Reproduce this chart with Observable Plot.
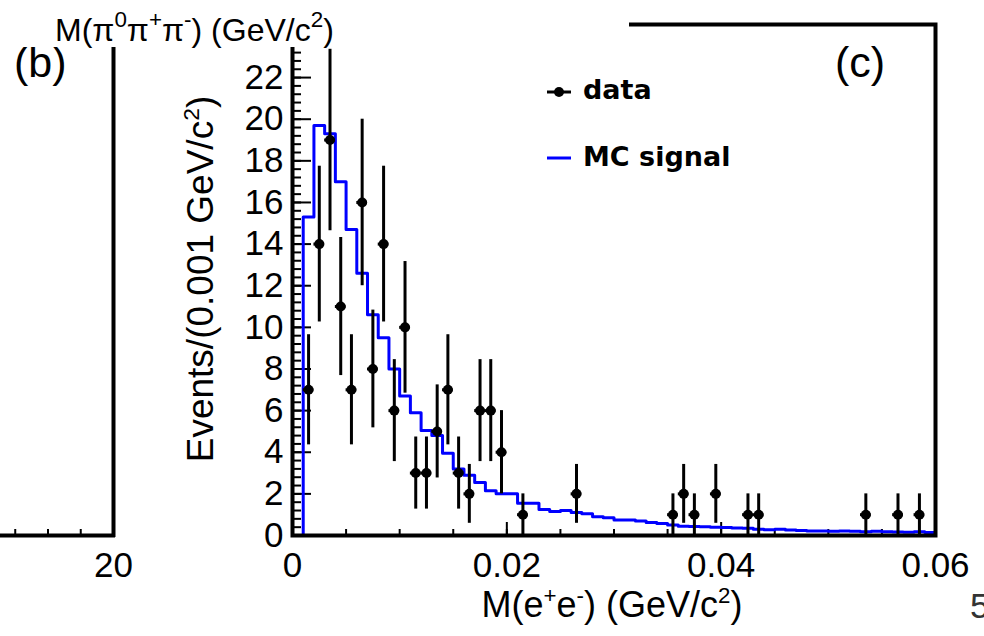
<!DOCTYPE html>
<html><head><meta charset="utf-8">
<script src="https://cdn.jsdelivr.net/npm/d3@7"></script>
<script src="https://cdn.jsdelivr.net/npm/@observablehq/plot@0.6"></script>
<style>
html,body{margin:0;padding:0;background:#fff;}
#wrap{position:relative;width:984px;height:636px;overflow:hidden;background:#fff;font-family:"Liberation Sans",Arial,Helvetica,sans-serif;color:#000;}
.abs{position:absolute;white-space:nowrap;}
sup{font-size:62%;vertical-align:0;position:relative;top:-0.62em;line-height:0;}
#ylab{left:200px;top:279px;font-size:37px;line-height:37px;transform:translate(-50%,-50%) rotate(-90deg);}
#xlab{left:612px;top:605px;font-size:36px;line-height:36px;transform:translate(-50%,-50%);}
.tag{font-size:43px;line-height:43px;top:41px;}
.leg{font-family:"DejaVu Sans",sans-serif;font-weight:bold;font-size:27px;line-height:27px;left:583px;}
#cover{left:0;top:0;width:629px;height:47px;background:#fff;}
#title{left:55px;top:14px;font-size:32px;line-height:32px;}
#title sup{font-size:70%;}
#page{left:970px;top:588px;font-size:35px;line-height:35px;color:#333;}
</style></head><body>
<div id="wrap">
  <div id="panelC" class="abs" style="left:0;top:0"></div>
  <div id="panelB" class="abs" style="left:0;top:0"></div>
  <div class="abs tag" style="left:14px">(b)</div>
  <div class="abs tag" style="left:835px">(c)</div>
  <div class="abs" id="ylab">Events/(0.001 GeV/c<sup>2</sup>)</div>
  <div class="abs" id="xlab">M(e<sup>+</sup>e<sup>-</sup>) (GeV/c<sup>2</sup>)</div>
  <svg class="abs" style="left:0;top:0" width="984" height="636" id="legsym">
    <line x1="547" x2="571" y1="92" y2="92" stroke="#000" stroke-width="3"/>
    <circle cx="559" cy="92" r="5" fill="#000"/>
    <line x1="547" x2="571" y1="158" y2="158" stroke="#0000ff" stroke-width="3"/>
  </svg>
  <div class="abs leg" style="top:76px">data</div>
  <div class="abs leg" style="top:143px">MC signal</div>
  <div class="abs" id="cover"></div>
  <div class="abs" id="title">M(π<sup>0</sup>π<sup>+</sup>π<sup>-</sup>) (GeV/c<sup>2</sup>)</div>
  <div class="abs" id="page">5</div>
</div>
<script>
// ---- data: panel (c) ----
const dataX = [0.0015, 0.0025, 0.0035, 0.0045, 0.0055, 0.0065, 0.0075, 0.0085, 0.0095, 0.0105,
               0.0115, 0.0125, 0.0135, 0.0145, 0.0155, 0.0165, 0.0175, 0.0185, 0.0195, 0.0215,
               0.0265, 0.0355, 0.0365, 0.0375, 0.0395, 0.0425, 0.0435, 0.0535, 0.0565, 0.0585];
const dataN = [7, 14, 19, 11, 7, 16, 8, 14, 6, 10,
               3, 3, 5, 7, 3, 2, 6, 6, 4, 1,
               2, 1, 2, 1, 2, 1, 1, 1, 1, 1];
const binWidth = 0.001;
// MC signal histogram, one value per 0.001 bin from 0 to 0.06
const mcValues = [0, 15.3, 19.7, 19.3, 17.0, 14.7, 12.6, 10.6, 9.5, 8.0,
                  6.7, 5.9, 5.05, 4.8, 3.95, 3.2, 2.9, 2.55, 2.15, 2.0,
                  2.0, 1.55, 1.55, 1.25, 1.15, 1.2, 1.1, 1.05, 0.9, 0.85,
                  0.75, 0.75, 0.7, 0.62, 0.58, 0.5, 0.45, 0.43, 0.42, 0.4,
                  0.38, 0.36, 0.35, 0.3, 0.28, 0.3, 0.26, 0.24, 0.22, 0.22,
                  0.2, 0.22, 0.2, 0.18, 0.2, 0.18, 0.17, 0.16, 0.18, 0.15];
// tick labels
const xTickValues = [0, 0.02, 0.04, 0.06];
const xTickLabels = ["0", "0.02", "0.04", "0.06"];
const yTickValues = [0, 2, 4, 6, 8, 10, 12, 14, 16, 18, 20, 22];
const bTickValues = [20];
const bTickLabels = ["20"];
const bMinorTicks = [17, 18, 19];

// ---- build tables ----
const points = dataX.map((x, i) => ({x, n: dataN[i], err: Math.sqrt(dataN[i])}));
const mcSteps = mcValues.map((v, i) => ({x: i * binWidth, y: v}));
mcSteps.push({x: mcValues.length * binWidth, y: mcValues[mcValues.length - 1]});
const xMinor = d3.range(0, 0.0601, 0.005);
const yMinor = d3.range(0, 24.5, 0.4);
const yMajor = d3.range(0, 24.5, 2);

const W = 984, H = 636, ML = 292, MR = 49, MT = 24, MB = 101;
const frameW = W - ML - MR, frameH = H - MT - MB;
const font = "'Liberation Sans', Arial, Helvetica, sans-serif";
// inward ticks: ticks that start at the axis and run len pixels into the frame
const yTicks = (data, len) => Plot.tickY(data, {y: d => d, insetRight: frameW - len, stroke: "#000", strokeWidth: 2});
const xTicks = (data, len, fh) => Plot.tickX(data, {x: d => d, insetTop: fh - len, stroke: "#000", strokeWidth: 2});

const chartC = Plot.plot({
  width: W, height: H,
  marginLeft: ML, marginRight: MR, marginTop: MT, marginBottom: MB,
  style: {background: "transparent", overflow: "visible", fontFamily: font, color: "#000"},
  x: {domain: [0, 0.06]},
  y: {domain: [0, 24.55]},
  marks: [
    xTicks(xMinor, 6, frameH),
    xTicks(xTickValues, 13, frameH),
    Plot.axisX(xTickValues, {anchor: "bottom", tickSize: 0, tickPadding: 17, fontSize: 35,
      tickFormat: (d) => xTickLabels[xTickValues.indexOf(d)], label: null}),
    yTicks(yMinor, 9),
    yTicks(yMajor, 19),
    Plot.axisY(yTickValues, {anchor: "left", tickSize: 0, tickPadding: 9, fontSize: 35, label: null}),
    Plot.line(mcSteps, {x: "x", y: "y", curve: "step-after", stroke: "#0000ff", strokeWidth: 3}),
    Plot.ruleX(points, {x: "x", y1: d => d.n - d.err, y2: d => d.n + d.err, stroke: "#000", strokeWidth: 3}),
    Plot.ruleY(points, {y: "n", x1: d => d.x - binWidth / 2, x2: d => d.x + binWidth / 2, stroke: "#000", strokeWidth: 3}),
    Plot.dot(points, {x: "x", y: "n", r: 5, fill: "#000", stroke: "none"}),
    Plot.frame({stroke: "#000", strokeWidth: 4})
  ]
});
document.getElementById("panelC").appendChild(chartC);

const chartB = Plot.plot({
  width: 140, height: H,
  marginLeft: 0, marginRight: 27, marginTop: MT, marginBottom: MB,
  style: {background: "transparent", overflow: "visible", fontFamily: font, color: "#000"},
  x: {domain: [16.55, 20]},
  y: {domain: [0, 24.55], axis: null},
  marks: [
    xTicks(bMinorTicks, 6, frameH),
    Plot.axisX(bTickValues, {anchor: "bottom", tickSize: 0, tickPadding: 17, fontSize: 35,
      tickFormat: (d) => bTickLabels[bTickValues.indexOf(d)], label: null}),
    Plot.ruleX([20], {stroke: "#000", strokeWidth: 4, strokeLinecap: "square"}),
    Plot.ruleY([0], {stroke: "#000", strokeWidth: 4, strokeLinecap: "square"})
  ]
});
document.getElementById("panelB").appendChild(chartB);
</script>
</body></html>
